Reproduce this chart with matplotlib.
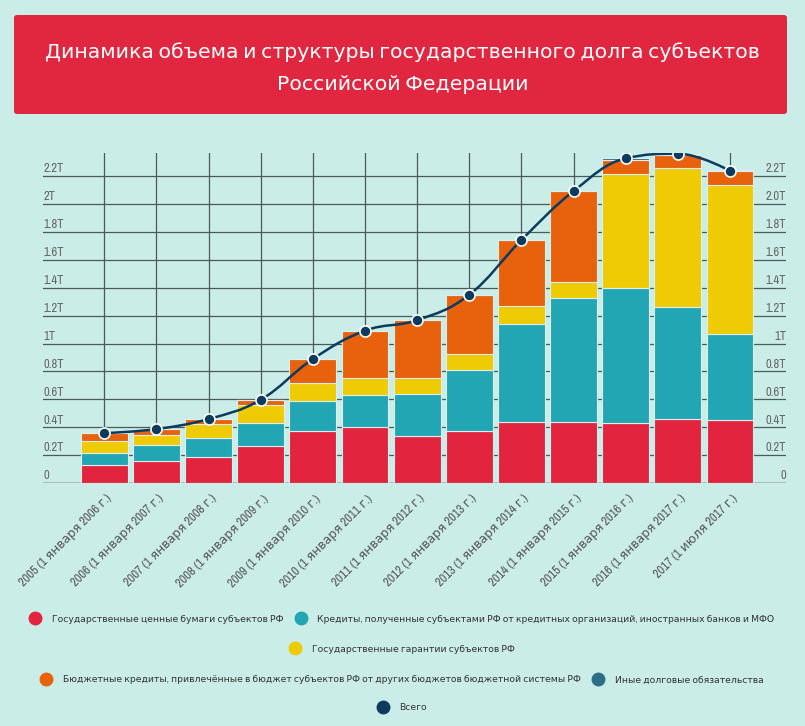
import matplotlib
matplotlib.use("Agg")
import matplotlib.pyplot as plt
from matplotlib import font_manager as fm
from matplotlib.patches import FancyBboxPatch, PathPatch
from matplotlib.path import Path
from matplotlib.lines import Line2D
from matplotlib.transforms import ScaledTranslation, blended_transform_factory

# pick a narrow face if one is installed
narrow = None
for f in fm.fontManager.ttflist:
    if 'Narrow' in f.name or 'Condensed' in f.name:
        narrow = (f.name, 'normal')
        break
if narrow is None:
    for f in fm.fontManager.ttflist:
        if f.name == 'DejaVu Sans' and f.stretch == 'condensed':
            narrow = ('DejaVu Sans', 'condensed')
            break
if narrow is None:
    narrow = ('DejaVu Sans', 'normal')
plt.rcParams['font.family'] = [narrow[0], 'DejaVu Sans']
plt.rcParams['font.stretch'] = narrow[1]

years = ["2005 (1 января 2006 г.)", "2006 (1 января 2007 г.)", "2007 (1 января 2008 г.)",
         "2008 (1 января 2009 г.)", "2009 (1 января 2010 г.)", "2010 (1 января 2011 г.)",
         "2011 (1 января 2012 г.)", "2012 (1 января 2013 г.)", "2013 (1 января 2014 г.)",
         "2014 (1 января 2015 г.)", "2015 (1 января 2016 г.)", "2016 (1 января 2017 г.)",
         "2017 (1 июля 2017 г.)"]

# values in trillions of rubles
securities = [0.129, 0.160, 0.189, 0.263, 0.373, 0.404, 0.339, 0.375, 0.440, 0.435, 0.430, 0.457, 0.449]
bank_loans = [0.084, 0.110, 0.136, 0.165, 0.215, 0.229, 0.299, 0.435, 0.702, 0.893, 0.968, 0.807, 0.621]
guarantees = [0.088, 0.076, 0.098, 0.131, 0.127, 0.120, 0.115, 0.115, 0.125, 0.111, 0.815, 0.996, 1.068]
budget_loans = [0.055, 0.041, 0.036, 0.038, 0.174, 0.339, 0.415, 0.425, 0.475, 0.654, 0.102, 0.091, 0.098]
other_debt = [0, 0, 0, 0, 0, 0, 0, 0, 0, 0, 0.012, 0.010, 0.009]
total = [0.357, 0.387, 0.459, 0.597, 0.889, 1.092, 1.168, 1.350, 1.742, 2.093, 2.327, 2.361, 2.238]

left_ticks = [0, 0.2, 0.4, 0.6, 0.8, 1.0, 1.2, 1.4, 1.6, 1.8, 2.0, 2.2]
left_labels = ["0", "0.2T", "0.4T", "0.6T", "0.8T", "1T", "1.2T", "1.4T", "1.6T", "1.8T", "2T", "2.2T"]
right_labels = ["0", "0.2T", "0.4T", "0.6T", "0.8T", "1T", "1.2T", "1.4T", "1.6T", "1.8T", "2.0T", "2.2T"]

series_names = ["Государственные ценные бумаги субъектов РФ",
                "Кредиты, полученные субъектами РФ от кредитных организаций, иностранных банков и МФО",
                "Государственные гарантии субъектов РФ",
                "Бюджетные кредиты, привлечённые в бюджет субъектов РФ от других бюджетов бюджетной системы РФ",
                "Иные долговые обязательства"]
total_name = "Всего"
title_lines = ["Динамика объема и структуры государственного долга субъектов", "Российской Федерации"]

colors = ['#e2243f', '#22a6b3', '#eecb05', '#e8610c', '#2c6e85']
total_color = '#0c3b5e'
bg = '#cbede8'

W, H = 805, 726
fig = plt.figure(figsize=(W / 100, H / 100), dpi=100, facecolor=bg)
renderer = fig.canvas.get_renderer()


def fit_size(s, target_px, size0=10.0):
    t = fig.text(0, 0, s, fontsize=size0)
    w = t.get_window_extent(renderer).width
    t.remove()
    return size0 * target_px / w


title_size = fit_size(title_lines[0], 714)
legend_size = fit_size(series_names[0], 232)
xlab_size = fit_size(years[0], 124)
ylab_size = min(9.0, fit_size("0.2T", 22))
em = legend_size * 100 / 72  # legend font size in pixels

# title banner
fig.patches.append(FancyBboxPatch((14 / W, 1 - 114 / H), 773 / W, 99 / H,
                                  boxstyle="round,pad=0,rounding_size=0.004",
                                  transform=fig.transFigure, fc='#e1263f', ec='none'))
fig.text(0.5, 1 - 52 / H, title_lines[0], ha='center', va='center', color='white', fontsize=title_size)
fig.text(0.5, 1 - 84 / H, title_lines[1], ha='center', va='center', color='white', fontsize=title_size)

ax = fig.add_axes([43 / W, (H - 483) / H, 743 / W, 330 / H])
ax.set_facecolor(bg)
x = list(range(len(years)))
ax.set_xlim(-1.176, 13.074)
ax.set_ylim(0, 2.366)

bottom = [0.0] * len(x)
for vals, c in zip([securities, bank_loans, guarantees, budget_loans, other_debt], colors):
    ax.bar(x, vals, width=0.9, bottom=bottom, color=c, edgecolor='#dceeed', linewidth=0.8, zorder=3)
    bottom = [b + v for b, v in zip(bottom, vals)]

# smooth spline through totals (highcharts-like)
smooth = 1.5
den = smooth + 1
verts = [(x[0], total[0])]
codes = [Path.MOVETO]
conts = []
n = len(x)
for i in range(n):
    px, py = x[i], total[i]
    if i == 0 or i == n - 1:
        conts.append(((px, py), (px, py)))
        continue
    lx, ly = x[i - 1], total[i - 1]
    nx, ny = x[i + 1], total[i + 1]
    lcx, lcy = (smooth * px + lx) / den, (smooth * py + ly) / den
    rcx, rcy = (smooth * px + nx) / den, (smooth * py + ny) / den
    corr = (rcy - lcy) * (rcx - px) / (rcx - lcx) + py - rcy
    lcy += corr
    rcy += corr
    if lcy > ly and lcy > py:
        lcy = max(ly, py)
        rcy = 2 * py - lcy
    elif lcy < ly and lcy < py:
        lcy = min(ly, py)
        rcy = 2 * py - lcy
    if rcy > ny and rcy > py:
        rcy = max(ny, py)
        lcy = 2 * py - rcy
    elif rcy < ny and rcy < py:
        rcy = min(ny, py)
        lcy = 2 * py - rcy
    conts.append(((lcx, lcy), (rcx, rcy)))
for i in range(1, n):
    verts += [conts[i - 1][1], conts[i][0], (x[i], total[i])]
    codes += [Path.CURVE4] * 3
ax.add_patch(PathPatch(Path(verts, codes), fc='none', ec=total_color, lw=1.8, zorder=4))
ax.plot(x, total, ls='none', marker='o', ms=8, mfc=total_color, mec='white', mew=1.2, zorder=5)

# grid
ax.set_axisbelow(True)
ax.set_yticks(left_ticks[1:])
ax.tick_params(axis='y', length=0, labelleft=False)
ax.grid(True, color='#4a5a5b', lw=0.9)
ax.axhline(0, color='#a8b4b4', lw=1.2, zorder=2)
for s in ax.spines.values():
    s.set_visible(False)

trl = blended_transform_factory(ax.transAxes, ax.transData)
for t, ll, rl in zip(left_ticks, left_labels, right_labels):
    ax.text(0.0, t + 0.012, ll, transform=trl, ha='left', va='bottom', fontsize=ylab_size, color='#666666')
    ax.text(1.0, t + 0.012, rl, transform=trl, ha='right', va='bottom', fontsize=ylab_size, color='#666666')

ax.set_xticks(x)
ax.set_xticklabels(years, rotation=45, ha='right', va='center', rotation_mode='anchor',
                   fontsize=xlab_size, color='#555555')
ax.tick_params(axis='x', length=0, pad=10)
off = ScaledTranslation(6 / 100, 0, fig.dpi_scale_trans)
for lab in ax.get_xticklabels():
    lab.set_transform(lab.get_transform() + off)


# legend rows
def handle(c):
    return Line2D([], [], ls='none', marker='o', ms=9, mfc=c, mec=c)


leg_kw = dict(loc='center', frameon=False, fontsize=legend_size, labelcolor='#333333',
              handlelength=1.0, handletextpad=12 / em, columnspacing=12.5 / em)
rows = [([0, 1], 619), ([2], 649), ([3, 4], 680)]
for idx, yp in rows:
    fig.legend([handle(colors[i]) for i in idx], [series_names[i] for i in idx],
               bbox_to_anchor=(0.5, 1 - yp / H), ncol=len(idx), **leg_kw)
fig.legend([handle(total_color)], [total_name], bbox_to_anchor=(0.5, 1 - 708 / H), **leg_kw)

fig.savefig("out.png", dpi=100, facecolor=bg)
